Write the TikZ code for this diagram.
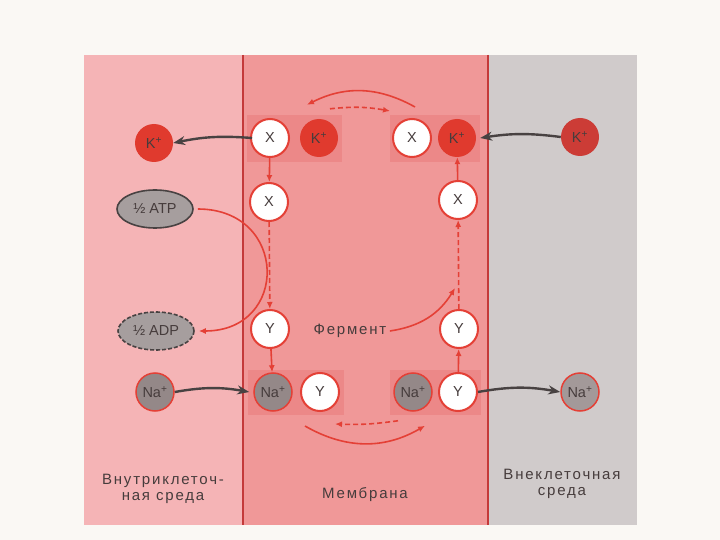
\documentclass[tikz,border=0pt]{standalone}
\usepackage{fontspec}
\setmainfont{Liberation Sans}
\newfontfamily\capfont{Liberation Sans}[LetterSpace=12]
\usetikzlibrary{arrows.meta,shapes.geometric}
\definecolor{bgwhite}{RGB}{250,248,244}
\definecolor{innerpink}{RGB}{245,180,182}
\definecolor{mempink}{RGB}{240,152,152}
\definecolor{pairpink}{RGB}{236,136,136}
\definecolor{outgrey}{RGB}{208,203,203}
\definecolor{pumpred}{RGB}{228,64,54}
\definecolor{wallred}{RGB}{196,58,58}
\definecolor{kred}{RGB}{224,58,46}
\definecolor{kdark}{RGB}{204,60,54}
\definecolor{nagrey}{RGB}{148,136,136}
\definecolor{ovalgrey}{RGB}{166,158,158}
\definecolor{arrowgrey}{RGB}{72,66,66}
\definecolor{inktext}{RGB}{70,60,60}

\tikzset{
  ion/.style={circle,minimum size=38pt,inner sep=0pt,font=\fontsize{14.5}{16}\selectfont,text=inktext},
  carrier/.style={ion,fill=white,draw=pumpred,line width=2pt},
  kion/.style={ion,fill=kred},
  naion/.style={ion,fill=nagrey,draw=pumpred,line width=1.5pt},
  half/.style={ellipse,minimum width=76pt,minimum height=38pt,inner sep=0pt,
    fill=ovalgrey,draw=arrowgrey,line width=1.6pt,text=inktext,font=\fontsize{14.5}{16}\selectfont},
  cyc/.style={draw=pumpred,line width=1.6pt,-{Latex[length=7pt,width=6pt]}},
  cycdash/.style={cyc,dash pattern=on 5pt off 3pt},
  move/.style={draw=arrowgrey,line width=2.4pt,-{Stealth[length=12pt,width=9pt]}},
  caption/.style={text=inktext,align=center,font=\capfont\fontsize{15}{16.5}\selectfont}
}

\begin{document}
\begin{tikzpicture}[x=1pt,y=-1pt]
  % Background and the three zones
  \fill[bgwhite] (0,0) rectangle (720,540);
  \fill[innerpink] (84,55) rectangle (243,525);
  \fill[mempink] (243,55) rectangle (488,525);
  \fill[outgrey] (488,55) rectangle (637,525);

  % Carrier pairs
  \fill[pairpink] (247,115) rectangle (342,162);
  \fill[pairpink] (390,115) rectangle (480,162);
  \fill[pairpink] (248,370) rectangle (344,415);
  \fill[pairpink] (390,370) rectangle (481,415);

  % Membrane borders
  \draw[wallred,line width=1.5pt] (243,55) -- (243,525);
  \draw[wallred,line width=1.5pt] (488,55) -- (488,525);

  % Ions and carriers
  \node[kion] (kIn) at (154,143) {K\textsuperscript{+}};
  \node[carrier] (xTL) at (270,138) {X};
  \node[kion] (kTL) at (319,138) {K\textsuperscript{+}};
  \node[carrier] (xTR) at (412,138) {X};
  \node[kion] (kTR) at (457,138) {K\textsuperscript{+}};
  \node[kion,fill=kdark] (kOut) at (580,137) {K\textsuperscript{+}};
  \node[carrier] (xL) at (269,202) {X};
  \node[carrier] (xR) at (458,200) {X};
  \node[carrier] (yL) at (270,329) {Y};
  \node[carrier] (yR) at (459,329) {Y};
  \node[caption] (enz) at (350,331) {Фермент};
  \node[half] (atp) at (155,209) {½ ATP};
  \node[half,dash pattern=on 4pt off 2pt] (adp) at (156,331) {½ ADP};
  \node[naion] (naIn) at (155,392) {Na\textsuperscript{+}};
  \node[naion] (naBL) at (273,392) {Na\textsuperscript{+}};
  \node[carrier] (yBL) at (320,392) {Y};
  \node[naion] (naBR) at (413,392) {Na\textsuperscript{+}};
  \node[carrier] (yBR) at (458,392) {Y};
  \node[naion,fill=nagrey!75!outgrey] (naOut) at (580,392) {Na\textsuperscript{+}};
  \coordinate (enzTip) at (455,288);

  % Transport across the borders
  \draw[move] ([xshift=2pt]xTL.west) to[bend right=8] (kIn.east);
  \draw[move] (kOut.west) to[bend right=8] ([xshift=4pt]kTR.east);
  \draw[move] (naIn.east) to[bend left=10] ([xshift=-4pt]naBL.west);
  \draw[move] (yBR.east) to[bend left=10] (naOut.west);

  % Carrier cycle
  \draw[cyc] (xTL) -- (xL);
  \draw[cycdash] (xL) -- (yL);
  \draw[cyc] (yL) -- (naBL);
  \draw[cyc] (yBR) -- (yR);
  \draw[cycdash] (yR) -- (xR);
  \draw[cyc] (xR) -- (kTR);
  \draw[cyc] ([xshift=3pt,yshift=11pt]xTR.north) to[bend right=28] ([xshift=-12pt,yshift=14pt]kTL.north);
  \draw[cycdash] ([xshift=11pt,yshift=10pt]kTL.north) to[bend left=8] ([xshift=-22pt,yshift=7pt]xTR.north);
  \draw[cyc] ([xshift=-15pt,yshift=-14pt]yBL.south) to[bend right=30] ([xshift=12pt,yshift=-14pt]naBR.south);
  \draw[cycdash] ([xshift=-15pt,yshift=-9pt]naBR.south) to[bend left=5] ([xshift=15pt,yshift=-12pt]yBL.south);

  % ATP split
  \draw[cyc] ([xshift=4pt]atp.east) to[out=0,in=0,looseness=1.9] ([xshift=4pt]adp.east);
  \draw[cyc] (enz.east) to[bend right=25] (enzTip);

  % Zone names
  \node[caption] (inName) at (163,489) {Внутриклеточ-\\ная среда};
  \node[caption] (memName) at (365,495) {Мембрана};
  \node[caption] (outName) at (562,484) {Внеклеточная\\среда};
\end{tikzpicture}
\end{document}
